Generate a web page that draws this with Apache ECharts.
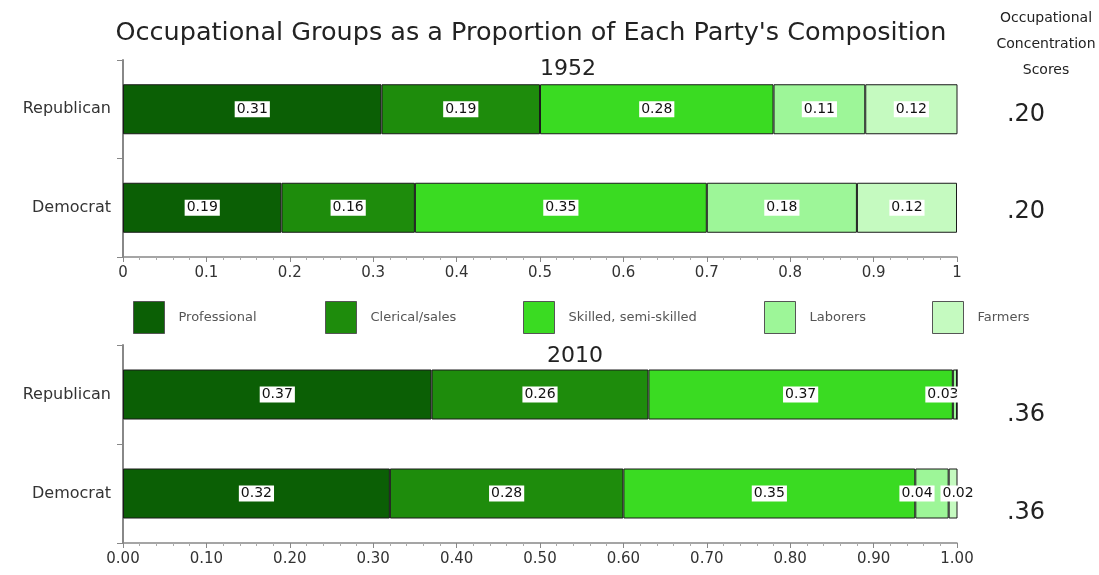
<!DOCTYPE html>
<html>
<head>
<meta charset="utf-8">
<script src="https://cdn.jsdelivr.net/npm/echarts@6/dist/echarts.min.js"></script>
<style>
  html, body { margin: 0; padding: 0; background: #fff; }
  #main { width: 1099px; height: 575px; }
</style>
</head>
<body>
<div id="main"></div>
<script>
// parties and occupational groups
const parties = ['Republican', 'Democrat'];
const occupations = ['Professional', 'Clerical/sales', 'Skilled, semi-skilled', 'Laborers', 'Farmers'];

// shares (segment order = occupations)
const rep1952 = [0.31, 0.19, 0.28, 0.11, 0.12];
const dem1952 = [0.19, 0.16, 0.35, 0.18, 0.12];
const rep2010 = [0.37, 0.26, 0.365, 0.005, 0];
const dem2010 = [0.32, 0.28, 0.35, 0.04, 0.02];
// printed labels of the 2010 republican bar (differ from drawn widths)
const rep2010Text = ['0.37', '0.26', '0.37', '0.03', ''];

// concentration scores, one per bar row
const scores1952 = ['.20', '.20'];
const scores2010 = ['.36', '.36'];

const colors = ['#0b5f05', '#1e8c0c', '#3adb22', '#9df698', '#c5fac0'];
const FONT = 'DejaVu Sans';

let chart = echarts.init(document.getElementById('main'));

// small nudges for labels of the thin segments at the right end
function labelOffset(year, party, i) {
  if (year === 2010 && party === 0 && i === 3) return [-12, 0];
  if (year === 2010 && party === 1 && i === 3) return [-15, 0];
  if (year === 2010 && party === 1 && i === 4) return [5, 0];
  return [0, 0];
}

function makeSeries(year, gridIdx, rep, dem, repText) {
  return occupations.map(function (name, i) {
    let data = [rep[i], dem[i]].map(function (v, p) {
      let txt = (p === 0 && repText) ? repText[i] : (v ? v.toFixed(2) : '');
      return { value: v, label: { formatter: txt, offset: labelOffset(year, p, i) } };
    });
    return {
      name: name,
      type: 'bar',
      stack: 'y' + year,
      xAxisIndex: gridIdx,
      yAxisIndex: gridIdx,
      barWidth: 50,
      clip: true,
      itemStyle: { color: colors[i], borderColor: '#1a1a1a', borderWidth: 1 },
      label: {
        show: true,
        position: 'inside',
        color: '#111',
        backgroundColor: '#fff',
        padding: [1, 2],
        fontSize: 14,
        fontFamily: FONT
      },
      emphasis: { disabled: true },
      data: data
    };
  });
}

function xAxis(gridIdx, fmt) {
  return {
    type: 'value',
    gridIndex: gridIdx,
    min: 0,
    max: 1,
    interval: 0.1,
    axisLine: { show: true, lineStyle: { color: '#888', width: 1.5 } },
    axisTick: { show: true, length: 5, lineStyle: { color: '#888' } },
    minorTick: { show: true, splitNumber: 5, length: 3, lineStyle: { color: '#aaa' } },
    splitLine: { show: false },
    axisLabel: { formatter: fmt, fontSize: 15, color: '#333', fontFamily: FONT, margin: 9 }
  };
}

function yAxis(gridIdx) {
  return {
    type: 'category',
    gridIndex: gridIdx,
    data: parties,
    inverse: true,
    axisLine: { show: true, lineStyle: { color: '#888', width: 2 } },
    axisTick: { show: true, length: 6, lineStyle: { color: '#888' } },
    axisLabel: { fontSize: 16, color: '#333', fontFamily: FONT, margin: 12 }
  };
}

function txt(x, y, s, size) {
  return {
    type: 'text', x: x, y: y, silent: true,
    style: { text: s, fontSize: size, fontFamily: FONT, fill: '#222', align: 'center', verticalAlign: 'middle' }
  };
}

let legendX = [128, 320, 518, 759, 927];

let option = {
  animation: false,
  grid: [
    { left: 123, right: 142, top: 60, height: 197 },
    { left: 123, right: 142, top: 345, height: 198 }
  ],
  legend: occupations.map(function (name, i) {
    return {
      data: [name],
      left: legendX[i],
      top: 296,
      itemWidth: 31,
      itemHeight: 32,
      icon: 'rect',
      selectedMode: false,
      itemStyle: { borderColor: '#555', borderWidth: 1 },
      textStyle: { fontSize: 13, color: '#555', fontFamily: FONT, padding: [0, 0, 0, 9] }
    };
  }),
  xAxis: [
    xAxis(0, function (v) { return String(+v.toFixed(1)); }),
    xAxis(1, function (v) { return v.toFixed(2); })
  ],
  yAxis: [yAxis(0), yAxis(1)],
  series: makeSeries(1952, 0, rep1952, dem1952, null)
    .concat(makeSeries(2010, 1, rep2010, dem2010, rep2010Text)),
  graphic: [
    txt(531, 33, "Occupational Groups as a Proportion of Each Party's Composition", 25.5),
    txt(1046, 18, 'Occupational', 14),
    txt(1046, 44, 'Concentration', 14),
    txt(1046, 70, 'Scores', 14),
    txt(568, 69, '1952', 22),
    txt(575, 356, '2010', 22),
    txt(1026, 115, scores1952[0], 24),
    txt(1026, 212, scores1952[1], 24),
    txt(1026, 415, scores2010[0], 24),
    txt(1026, 513, scores2010[1], 24)
  ]
};

chart.setOption(option);
</script>
</body>
</html>
